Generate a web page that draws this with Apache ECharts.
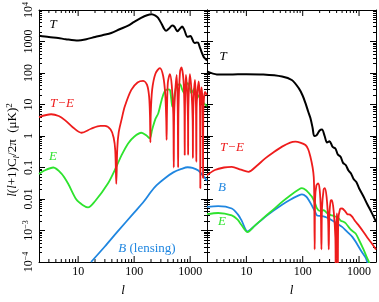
<!DOCTYPE html>
<html>
<head>
<meta charset="utf-8">
<script src="https://cdn.jsdelivr.net/npm/echarts@6/dist/echarts.min.js"></script>
<style>
  html, body { margin: 0; padding: 0; background: #fff; }
  #chart { width: 379px; height: 302px; }
</style>
</head>
<body>
<div id="chart"></div>
<script>
// multipole range and power range (same scale used in both panels)
const L_MIN = 2, L_MAX = 2000;
const P_MIN = 1e-4, P_MAX = 1e4;

const xTickValues = [10, 100, 1000];
const xTickLabels = ['10', '100', '1000'];
const xMinorTicks = [3, 4, 5, 6, 7, 8, 9, 20, 30, 40, 50, 60, 70, 80, 90,
  200, 300, 400, 500, 600, 700, 800, 900];
const yTickValues = [1e4, 1e3, 100, 10, 1, 0.1, 0.01, 1e-3, 1e-4];
const yTickLabels = ['{b|10}{s|4}', '1000', '100', '10', '1', '0.1', '0.01', '{b|10}{s|−3}', '{b|10}{s|−4}'];

// left panel: scalar perturbations  [l, value]
const scalarT = [[2, 1520], [3, 1380], [4.4, 1290], [6, 1180], [10, 1070], [14, 1180], [20, 1390], [28, 1600],
  [39, 1860], [55, 2450], [78, 3200], [100, 4200], [133, 5600], [170, 6800], [205, 7300], [240, 6600],
  [268, 5600], [310, 3600], [345, 2500], [372, 2200], [420, 2600], [480, 3200], [520, 3000], [560, 2400],
  [590, 2100], [650, 2500], [720, 3000], [790, 2300], [890, 1420], [950, 1450], [1020, 1500], [1100, 1150],
  [1200, 890], [1300, 930], [1380, 920], [1480, 680], [1590, 480], [1700, 360], [1800, 300], [2000, 250]];
const scalarTE = [[2, 4.0], [3.3, 4.9], [4.5, 4.3], [5.8, 3.2], [8, 1.9], [11.5, 1.27], [17, 1.7], [25, 2.1],
  [30, 2.1], [38, 1.6], [43, 0.9], [46, 0.35], [48, 0.03], [50, 0.4], [53, 1.3], [60, 3.5], [68, 8.6],
  [89, 29], [115, 50], [145, 56], [170, 42], [185, 18], [192, 4], [195, 0.63], [198, 5], [210, 30],
  [240, 95], [288, 143], [330, 80], [360, 20], [375, 3], [380, 0.75], [386, 6], [400, 50], [435, 92],
  [470, 40], [500, 5], [510, 0.1], [520, 6], [575, 87], [600, 8], [610, 0.1], [620, 8], [660, 110],
  [700, 150], [760, 60], [790, 8], [800, 0.25], [810, 10], [840, 87], [880, 30], [915, 3], [920, 0.25],
  [930, 8], [990, 92], [1060, 25], [1110, 3], [1120, 0.2], [1135, 6], [1220, 60], [1270, 10], [1290, 0.15],
  [1305, 8], [1420, 54], [1500, 8], [1520, 0.022], [1540, 8], [1600, 35], [1680, 6], [1700, 0.046],
  [1720, 6], [1850, 25], [2000, 20]];
const scalarE = [[2, 0.062], [2.5, 0.08], [3.6, 0.1], [5, 0.065], [6.6, 0.031], [9.3, 0.0096], [12, 0.0065],
  [15, 0.0054], [20, 0.0085], [34, 0.031], [48, 0.105], [60, 0.25], [78, 0.58], [100, 0.95], [135, 1.27],
  [170, 1.0], [190, 0.84], [210, 1.6], [240, 3.5], [270, 5.3], [310, 14], [350, 26], [400, 30], [435, 29],
  [460, 15], [480, 8.6], [500, 12], [560, 35], [610, 42], [660, 44], [720, 30], [780, 23], [840, 38],
  [910, 48], [980, 35], [1050, 23], [1130, 28], [1210, 33], [1280, 22], [1340, 16], [1450, 20], [1550, 23],
  [1650, 15], [1760, 11], [2000, 9]];
const lensingB = [[17, 1e-4], [30, 3.1e-4], [50, 9e-4], [100, 0.0037], [150, 0.0085], [200, 0.017],
  [250, 0.027], [350, 0.045], [500, 0.07], [700, 0.09], [900, 0.102], [1100, 0.098], [1400, 0.08],
  [1700, 0.055], [2000, 0.038]];

// right panel: tensor perturbations  [l, value]
const tensorT = [[2, 112], [3, 90], [5, 89], [10, 92], [20, 90], [43, 78], [64, 60], [85, 33], [100, 19],
  [112, 11], [125, 6], [137, 3.7], [150, 1.8], [160, 1.0], [175, 1.05], [200, 1.5], [220, 1.6], [245, 1.0],
  [270, 0.62], [300, 0.68], [340, 0.45], [380, 0.4], [420, 0.26], [470, 0.22], [520, 0.14], [580, 0.12],
  [650, 0.08], [720, 0.065], [800, 0.043], [900, 0.034], [1000, 0.022], [1200, 0.012], [1400, 0.0068],
  [1700, 0.0035], [2000, 0.0019]];
const tensorTE = [[2, 0.057], [2.76, 0.083], [4, 0.1], [5.5, 0.105], [8, 0.085], [10.9, 0.073], [15, 0.11],
  [21.6, 0.195], [30, 0.3], [43, 0.46], [60, 0.62], [74, 0.66], [90, 0.62], [112, 0.52], [125, 0.38],
  [137, 0.22], [150, 0.1], [157, 0.05], [160, 0.015], [163, 2.5e-4], [166, 0.01], [175, 0.027], [188, 0.031],
  [200, 0.02], [210, 0.004], [215, 2.5e-4], [220, 0.005], [235, 0.02], [246, 0.022], [265, 0.012],
  [283, 0.002], [290, 2.5e-4], [297, 0.003], [315, 0.009], [330, 0.0092], [355, 0.004], [380, 6e-4],
  [385, 5e-5], [392, 8e-4], [405, 0.0035], [412, 0.0015], [420, 5e-5], [428, 0.002], [460, 0.0048],
  [500, 0.005], [560, 0.0042], [620, 0.0033], [690, 0.0032], [760, 0.0027], [850, 0.002], [1000, 0.0014],
  [1200, 9e-4], [1400, 6e-4], [1700, 3.8e-4], [2000, 2.5e-4]];
const tensorB = [[2, 0.0056], [3.16, 0.0059], [5.5, 0.005], [7, 0.0033], [8.2, 0.0021], [10.5, 9.4e-4],
  [14, 0.0014], [21.6, 0.0027], [30, 0.0042], [43, 0.0066], [60, 0.0095], [85, 0.013], [97, 0.014],
  [115, 0.012], [130, 0.0088], [145, 0.0063], [165, 0.004], [180, 0.003], [210, 0.0029], [250, 0.0027],
  [290, 0.0024], [330, 0.0021], [400, 0.0017], [500, 0.0013], [600, 9.5e-4], [760, 6.3e-4], [900, 4e-4],
  [1100, 2.2e-4], [1300, 1.4e-4], [1400, 1e-4], [1500, 7e-5]];
const tensorE = [[2, 0.0033], [3.16, 0.0036], [5.5, 0.003], [7, 0.0022], [8.2, 0.0015], [10.5, 8.9e-4],
  [14, 0.0014], [21.6, 0.0028], [30, 0.0046], [43, 0.0081], [60, 0.013], [85, 0.02], [97, 0.022],
  [115, 0.019], [130, 0.015], [145, 0.012], [165, 0.0075], [180, 0.005], [200, 0.0042], [235, 0.0044],
  [270, 0.0036], [300, 0.0032], [330, 0.003], [370, 0.0028], [420, 0.0026], [480, 0.002], [530, 0.0019],
  [580, 0.0017], [700, 0.0011], [870, 8e-4], [1000, 5e-4], [1200, 2.5e-4], [1400, 1.3e-4], [1500, 1e-4],
  [1600, 7e-5]];

const BLACK = '#000', RED = '#ee1c1c', GREEN = '#2ee32e', BLUE = '#1f86e0';
const FONT = 'Liberation Serif';

// x axes: only the frame line and the name; ticks and labels are drawn by custom series
function xAxis(grid, pos, withName) {
  return {
    type: 'log', logBase: 10, gridIndex: grid, position: pos, min: L_MIN, max: L_MAX,
    axisLine: { show: true, onZero: false, lineStyle: { color: '#000', width: 1 } },
    axisTick: { show: false }, axisLabel: { show: false }, splitLine: { show: false },
    name: withName ? 'l' : '', nameLocation: 'middle', nameGap: 22,
    nameTextStyle: { color: '#000', fontFamily: FONT, fontStyle: 'italic', fontSize: 13 }
  };
}

function yAxis(grid, pos) {
  return {
    type: 'log', logBase: 10, gridIndex: grid, position: pos, min: P_MIN, max: P_MAX,
    axisLine: { show: true, onZero: false, lineStyle: { color: '#000', width: 1 } },
    axisTick: { show: true, inside: true, length: 6, lineStyle: { color: '#000' } },
    minorTick: { show: true, splitNumber: 9, length: 3, lineStyle: { color: '#000' } },
    axisLabel: { show: false }, splitLine: { show: false }
  };
}

// ticks on bottom and top edges (+ label under the bottom one for decades)
function xTickItem(params, api) {
  const v = api.value(0), len = api.value(1), li = api.value(2);
  const b = api.coord([v, P_MIN]);
  const t = api.coord([v, P_MAX]);
  const st = { stroke: '#000', lineWidth: 1 };
  const kids = [
    { type: 'line', shape: { x1: b[0], y1: b[1], x2: b[0], y2: b[1] - len }, style: st },
    { type: 'line', shape: { x1: t[0], y1: t[1], x2: t[0], y2: t[1] + len }, style: st }
  ];
  if (li >= 0) {
    kids.push({ type: 'text', x: b[0], y: b[1] + 10,
      style: { text: xTickLabels[li], fill: '#000', font: '12px "Liberation Serif"', align: 'center', verticalAlign: 'middle' } });
  }
  return { type: 'group', children: kids };
}

const xTickData = xTickValues.map((v, i) => [v, 6, i]).concat(xMinorTicks.map(v => [v, 3, -1]));

function curve(data, color, xi, yi, width) {
  return {
    type: 'line', data: data, xAxisIndex: xi, yAxisIndex: yi,
    showSymbol: false, symbol: 'none', smooth: 0.3, clip: true,
    lineStyle: { color: color, width: width || 1.8 }, silent: true, animation: false
  };
}

function label(x, y, text, color) {
  return {
    type: 'text', x: x, y: y,
    style: {
      text: text, fill: color, font: 'italic 13px "Liberation Serif"',
      align: 'center', verticalAlign: 'middle',
      rich: { n: { fontStyle: 'normal', fontFamily: FONT, fontSize: 13, fill: color } }
    }
  };
}

const chart = echarts.init(document.getElementById('chart'));
chart.setOption({
  animation: false,
  grid: [
    { left: 39, top: 10, width: 168, height: 252, containLabel: false },
    { left: 207, top: 10, width: 169, height: 252, containLabel: false }
  ],
  xAxis: [xAxis(0, 'bottom', true), xAxis(0, 'top', false), xAxis(1, 'bottom', true), xAxis(1, 'top', false)],
  yAxis: [yAxis(0, 'left'), yAxis(0, 'right'), yAxis(1, 'left'), yAxis(1, 'right')],
  series: [
    { type: 'custom', xAxisIndex: 0, yAxisIndex: 0, data: xTickData, renderItem: xTickItem, silent: true, clip: false },
    { type: 'custom', xAxisIndex: 2, yAxisIndex: 2, data: xTickData, renderItem: xTickItem, silent: true, clip: false },
    curve(lensingB, BLUE, 0, 0),
    curve(scalarE, GREEN, 0, 0),
    curve(scalarTE, RED, 0, 0),
    curve(scalarT, BLACK, 0, 0, 2),
    curve(tensorB, BLUE, 2, 2),
    curve(tensorE, GREEN, 2, 2),
    curve(tensorTE, RED, 2, 2),
    curve(tensorT, BLACK, 2, 2, 2)
  ]
});

// rotated y tick labels, placed through the left panel's scales
const yLabelGraphics = yTickValues.map((v, i) => {
  const p = chart.convertToPixel({ xAxisIndex: 0, yAxisIndex: 0 }, [L_MIN, v]);
  return {
    type: 'text', x: p[0] - 10, y: p[1], rotation: Math.PI / 2,
    style: {
      text: yTickLabels[i], fill: '#000', font: '12px "Liberation Serif"', align: 'center', verticalAlign: 'middle',
      rich: {
        b: { fontFamily: FONT, fontSize: 12, fill: '#000' },
        s: { fontFamily: FONT, fontSize: 8, fill: '#000', verticalAlign: 'bottom', padding: [0, 0, 7, 0] }
      }
    }
  };
});

chart.setOption({
  graphic: [
    label(53, 25, 'T', BLACK),
    label(62, 104, 'T−E', RED),
    label(53, 157, 'E', GREEN),
    label(147, 249, 'B {n|(lensing)}', BLUE),
    label(223, 57, 'T', BLACK),
    label(232, 148, 'T−E', RED),
    label(222, 188, 'B', BLUE),
    label(222, 222, 'E', GREEN),
    {
      type: 'text', x: 13, y: 150, rotation: Math.PI / 2,
      style: {
        text: '{i|l}({i|l}+1)C{sub|l}/2π  (μK){sup|2}',
        fill: '#000', font: '13px "Liberation Serif"', align: 'center', verticalAlign: 'middle',
        rich: {
          i: { fontStyle: 'italic', fontFamily: FONT, fontSize: 13 },
          sub: { fontStyle: 'italic', fontFamily: FONT, fontSize: 9, verticalAlign: 'top', padding: [7, 0, 0, 0] },
          sup: { fontFamily: FONT, fontSize: 9, verticalAlign: 'bottom', padding: [0, 0, 7, 0] }
        }
      }
    }
  ].concat(yLabelGraphics)
});
</script>
</body>
</html>
